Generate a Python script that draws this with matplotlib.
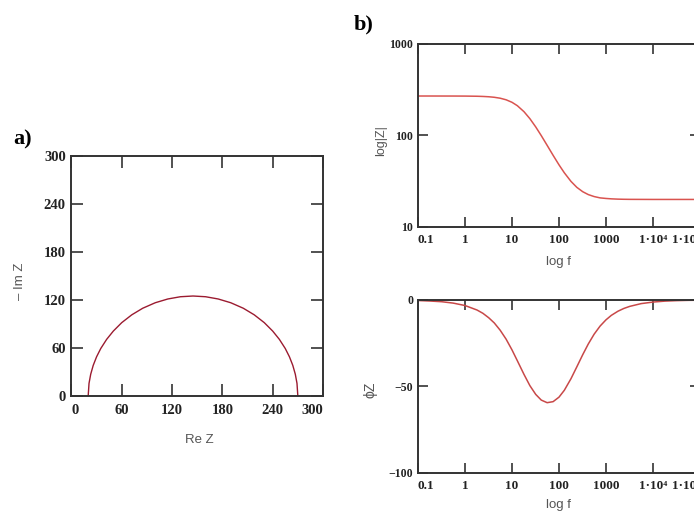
import matplotlib
matplotlib.use("Agg")
import matplotlib.pyplot as plt

# Nyquist points (Re Z, -Im Z) read from panel a)
re_z = [20, 21, 23, 26, 30, 35, 42, 50, 60, 72, 85, 100, 115, 130, 145,
        160, 175, 190, 205, 218, 230, 240, 248, 255, 260, 264, 267, 269, 270]
neg_im_z = [0, 15.8, 27.2, 38.3, 49.0, 59.4, 70.8, 81.2, 91.7, 101.5, 109.7, 116.6, 121.3, 124.1, 125,
            124.1, 121.3, 116.6, 109.7, 101.5, 91.7, 81.2, 70.8, 59.4, 49.0, 38.3, 27.2, 15.8, 0]

# Bode points read from panel b)
freq = [0.1, 0.18, 0.32, 0.56, 1, 1.8, 2.4, 3.2, 4.2, 5.6, 7.5, 10, 13, 18, 24, 32, 42, 56,
        75, 100, 130, 180, 240, 320, 420, 560, 750, 1000, 1300, 1800, 2400, 3200, 5600,
        1e4, 1.8e4, 3.2e4, 5.6e4, 1e5]
mod_z = [270.0, 270.0, 269.9, 269.8, 269.5, 268.4, 267.1, 265.0, 261.5, 255.5, 245.5, 230.5,
         211.6, 182.0, 152.8, 124.0, 99.6, 78.0, 60.7, 47.8, 39.1, 31.5, 27.1, 24.3, 22.6,
         21.5, 20.8, 20.5, 20.3, 20.15, 20.08, 20.04, 20.02, 20.0, 20.0, 20.0, 20.0, 20.0]
phase = [-0.3, -0.6, -1.0, -1.8, -3.2, -5.8, -7.7, -10.3, -13.3, -17.5, -22.7, -28.9,
         -35.2, -43.1, -49.6, -54.7, -58.0, -59.5, -58.9, -56.3, -52.3, -45.6, -38.7, -31.7,
         -25.5, -19.8, -15.1, -11.5, -8.9, -6.5, -4.9, -3.7, -2.1, -1.2, -0.65, -0.37, -0.21, -0.12]

nyq_ticks = [0, 60, 120, 180, 240, 300]
f_ticks = [0.1, 1, 10, 100, 1000, 1e4, 1e5]
f_labels = ["0.1", "1", "10", "100", "1000", "1\u00b710\u2074", "1\u00b710\u2075"]

serif = ["Liberation Serif", "DejaVu Serif"]
sans = ["Liberation Sans", "DejaVu Sans"]
spine_col = "#333333"
lab_col = "#555555"


def style(ax, xsize, ysize, length, pad_x, pad_y):
    for s in ax.spines.values():
        s.set_color(spine_col)
        s.set_linewidth(1.4)
    ax.tick_params(which="major", direction="in", length=length, width=1.2,
                   top=True, right=True, colors=spine_col, labelcolor="#222222")
    ax.tick_params(axis="x", pad=pad_x)
    ax.tick_params(axis="y", pad=pad_y)
    ax.tick_params(which="minor", length=0)
    for t in ax.get_xticklabels():
        t.set_fontfamily(serif)
        t.set_fontweight("bold")
        t.set_fontsize(xsize)
    for t in ax.get_yticklabels():
        t.set_fontfamily(serif)
        t.set_fontweight("bold")
        t.set_fontsize(ysize)


fig = plt.figure(figsize=(6.94, 5.23), dpi=100)

# a) Nyquist
ax1 = fig.add_axes([0.1029, 0.2428, 0.3625, 0.4589])
ax1.plot(re_z, neg_im_z, color="#9b1b30", lw=1.0)
ax1.set_xlim(0, 300)
ax1.set_ylim(0, 300)
ax1.set_xticks(nyq_ticks)
ax1.set_yticks(nyq_ticks)
style(ax1, 10.5, 10.5, 8.5, 6, 4)
xl = ax1.get_xticklabels()
xl[0].set_horizontalalignment("left")
xl[-1].set_horizontalalignment("right")
ax1.set_ylabel("\u2013 Im Z", family=sans, color=lab_col, fontsize=9.5, va="center")
ax1.yaxis.set_label_coords(-0.204, 0.48)
ax1.set_xlabel("Re Z", family=sans, color=lab_col, fontsize=9.5, va="center")
ax1.xaxis.set_label_coords(0.51, -0.183)

# b) |Z|
ax2 = fig.add_axes([0.6023, 0.5660, 0.4063, 0.3499])
ax2.plot(freq, mod_z, color="#d9534f", lw=1.1)
ax2.set_xscale("log")
ax2.set_yscale("log")
ax2.set_xlim(0.1, 1e5)
ax2.set_ylim(10, 1000)
ax2.set_xticks(f_ticks)
ax2.set_xticklabels(f_labels)
ax2.set_yticks([10, 100, 1000])
ax2.set_yticklabels(["10", "100", "1000"])
style(ax2, 9.5, 8.5, 7, 5, 3.5)
ax2.get_xticklabels()[0].set_horizontalalignment("left")
ax2.get_xticklabels()[-1].set_horizontalalignment("right")
ax2.set_ylabel("log|Z|", family=sans, color=lab_col, fontsize=9, va="center")
ax2.yaxis.set_label_coords(-0.131, 0.47)
ax2.set_xlabel("log f", family=sans, color=lab_col, fontsize=9.5, va="center")
ax2.xaxis.set_label_coords(0.5, -0.191)

# b) phase
ax3 = fig.add_axes([0.6023, 0.0964, 0.4063, 0.3300])
ax3.plot(freq, phase, color="#c84848", lw=1.1)
ax3.set_xscale("log")
ax3.set_xlim(0.1, 1e5)
ax3.set_ylim(-100, 0)
ax3.set_xticks(f_ticks)
ax3.set_xticklabels(f_labels)
ax3.set_yticks([-100, -50, 0])
ax3.set_yticklabels(["\u2212100", "\u221250", "0"])
style(ax3, 9.5, 8.5, 7, 5, 3.5)
ax3.get_xticklabels()[0].set_horizontalalignment("left")
ax3.get_xticklabels()[-1].set_horizontalalignment("right")
ax3.set_ylabel("\u03d5Z", family=sans, color=lab_col, fontsize=10, va="center")
ax3.yaxis.set_label_coords(-0.170, 0.479)
ax3.set_xlabel("log f", family=sans, color=lab_col, fontsize=9.5, va="center")
ax3.xaxis.set_label_coords(0.5, -0.188)

fig.text(23 / 694, 1 - 139 / 523, "a)", family=serif, fontweight="bold",
         fontsize=16, ha="center", va="center")
fig.text(364 / 694, 1 - 24 / 523, "b)", family=serif, fontweight="bold",
         fontsize=16, ha="center", va="center")

fig.savefig("out.png", dpi=100)
